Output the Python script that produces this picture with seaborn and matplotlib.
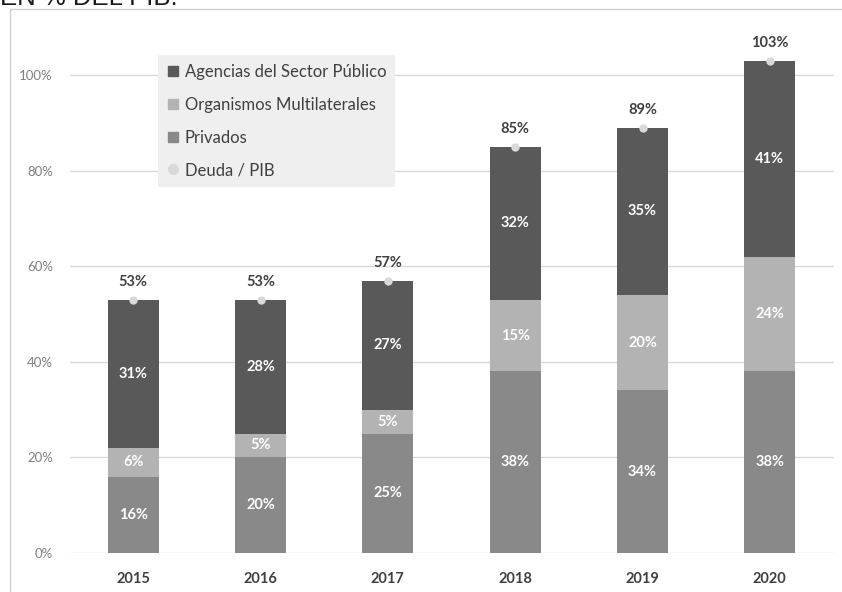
import numpy as np
import pandas as pd
import matplotlib
matplotlib.use("Agg")
import matplotlib.pyplot as plt
from matplotlib.lines import Line2D
from matplotlib.patches import Rectangle
import seaborn as sns

years = ["2015", "2016", "2017", "2018", "2019", "2020"]
privados = [16, 20, 25, 38, 34, 38]
organismos = [6, 5, 5, 15, 20, 24]
agencias = [31, 28, 27, 32, 35, 41]
deuda_pib = [53, 53, 57, 85, 89, 103]
yticks = [0, 20, 40, 60, 80, 100]
series_names = ["Agencias del Sector Público", "Organismos Multilaterales", "Privados", "Deuda / PIB"]

c_ag = "#595959"
c_org = "#b3b3b3"
c_pri = "#898989"
c_dot = "#d9d9d9"

sns.set_theme(style="white")
plt.rcParams["font.family"] = ["Lato", "DejaVu Sans"]

fig = plt.figure(figsize=(8.42, 5.92), dpi=100)
ax = fig.add_axes([69.5 / 842, 39 / 592, 764 / 842, 525.8 / 592])

# outer frame
fig.patches.append(Rectangle((10 / 842, -0.05), 1.0, (592 - 8.5) / 592 + 0.05,
                             transform=fig.transFigure, facecolor="none",
                             edgecolor="#d0d0d0", linewidth=1.0, zorder=0))
fig.text(0.0, 1 - 5 / 592, "EN % DEL PIB.", family=["Liberation Sans"], fontsize=18.5,
         color="#1a1a1a", ha="left", va="baseline")

df = pd.DataFrame({"year": years, "priv": privados, "org": organismos, "ag": agencias})
bottom2 = np.array(privados)
bottom3 = bottom2 + np.array(organismos)

for y in yticks:
    ax.axhline(y, color="#d9d9d9", linewidth=1.0, zorder=0)

bar_kw = dict(width=0.4, saturation=1, ax=ax, zorder=2, linewidth=0, edgecolor="none")
sns.barplot(data=df, x="year", y="priv", color=c_pri, **bar_kw)
sns.barplot(data=df, x="year", y="org", bottom=bottom2, color=c_org, **bar_kw)
sns.barplot(data=df, x="year", y="ag", bottom=bottom3, color=c_ag, **bar_kw)

ax.scatter(np.arange(len(years)), deuda_pib, s=36, color=c_dot, zorder=3, linewidths=0)

for i in range(len(years)):
    for base, v in ((0, privados[i]), (bottom2[i], organismos[i]), (bottom3[i], agencias[i])):
        ax.text(i, base + v / 2, f"{v}%", ha="center", va="center", color="white",
                fontsize=10.5, fontweight="bold", zorder=4)
    ax.text(i, deuda_pib[i] + 3.6, f"{deuda_pib[i]}%", ha="center", va="center",
            color="#404040", fontsize=10.5, fontweight="bold", zorder=4)

ax.set_xlim(-0.5, len(years) - 0.5)
ax.set_ylim(0, 110)
ax.set_yticks(yticks)
ax.set_yticklabels([f"{t}%" for t in yticks], color="#7f7f7f", fontsize=9.5)
ax.tick_params(axis="y", length=0, pad=12)
ax.tick_params(axis="x", length=0, pad=14)
for lab in ax.get_xticklabels():
    lab.set_fontweight("bold")
    lab.set_color("#404040")
    lab.set_fontsize(10.5)
ax.set_xlabel("")
ax.set_ylabel("")
for s in ax.spines.values():
    s.set_visible(False)
ax.set_facecolor("none")

handles = [
    Line2D([], [], marker="s", linestyle="none", color=c_ag, markersize=7),
    Line2D([], [], marker="s", linestyle="none", color=c_org, markersize=7),
    Line2D([], [], marker="s", linestyle="none", color=c_pri, markersize=7),
    Line2D([], [], marker="o", linestyle="none", color=c_dot, markersize=7),
]
leg = fig.legend(handles, series_names, loc="upper left",
                 bbox_to_anchor=(158 / 842, 1 - 55 / 592), borderaxespad=0, fontsize=12,
                 frameon=True, facecolor="#efefef", edgecolor="none", framealpha=1,
                 fancybox=False, handlelength=0.7, handletextpad=0.35,
                 labelspacing=1.0, borderpad=0.55, labelcolor="#404040")
leg.set_zorder(5)

fig.savefig("out.png", dpi=100)
